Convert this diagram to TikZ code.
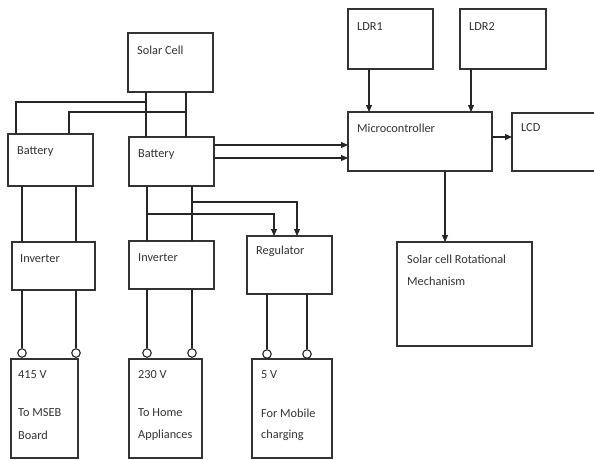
\documentclass[tikz,border=0pt]{standalone}
\usepackage{fontspec}
\setmainfont{Carlito}
\usetikzlibrary{arrows.meta,calc}
\begin{document}
\begin{tikzpicture}[x=1pt,y=-1pt,
  box/.style={draw=black!80,line width=1.1pt,rectangle,inner sep=0pt,outer sep=0pt,anchor=north west},
  lbl/.style={anchor=west,inner sep=0pt,text=black!80,font=\fontsize{12.3}{14}\selectfont},
  wire/.style={draw=black!85,line width=1.1pt},
  arr/.style={wire,-{Triangle[length=7pt,width=6pt]}},
  term/.style={circle,draw=black!85,line width=1.1pt,fill=white,minimum size=8.5pt,inner sep=0pt}]
\useasboundingbox[fill=white] (0,0) rectangle (594,459);
% boxes
\node[box,minimum width=85pt,minimum height=59pt] (solar) at (128,33) {};
\node[box,minimum width=85pt,minimum height=52pt] (bat1) at (8,134) {};
\node[box,minimum width=85pt,minimum height=49pt] (bat2) at (129,137) {};
\node[box,minimum width=83pt,minimum height=48pt] (inv1) at (12,242) {};
\node[box,minimum width=85pt,minimum height=48pt] (inv2) at (129,241) {};
\node[box,minimum width=85pt,minimum height=58pt] (reg) at (247,236) {};
\node[box,minimum width=67pt,minimum height=99pt] (out1) at (11,359) {};
\node[box,minimum width=73pt,minimum height=99pt] (out2) at (129,359) {};
\node[box,minimum width=80pt,minimum height=99pt] (out3) at (252,359) {};
\node[box,minimum width=85pt,minimum height=60pt] (ldr1) at (348,9) {};
\node[box,minimum width=86pt,minimum height=60pt] (ldr2) at (460,9) {};
\node[box,minimum width=144pt,minimum height=59pt] (micro) at (348,112) {};
\node[box,minimum width=90pt,minimum height=58pt] (lcd) at (512,113) {};
\node[box,minimum width=135pt,minimum height=104pt] (rot) at (397,242) {};
% labels
\node[lbl] (tsolar) at (137,50) {Solar Cell};
\node[lbl] (tbat1) at (17,152) {Battery};
\node[lbl] (tbat2) at (138,155) {Battery};
\node[lbl] (tinv1) at (20,259) {Inverter};
\node[lbl] (tinv2) at (138,258) {Inverter};
\node[lbl] (treg) at (256,251) {Regulator};
\node[lbl] (tldr1) at (357,27) {LDR1};
\node[lbl] (tldr2) at (469,27) {LDR2};
\node[lbl] (tmicro) at (357,128) {Microcontroller};
\node[lbl] (tlcd) at (521,128) {LCD};
\node[lbl] (trot1) at (407,259) {Solar cell Rotational};
\node[lbl] (trot2) at (407,281) {Mechanism};
\node[lbl] (to1a) at (18,375) {415 V};
\node[lbl] (to1b) at (18,413) {To MSEB};
\node[lbl] (to1c) at (18,435) {Board};
\node[lbl] (to2a) at (138,375) {230 V};
\node[lbl] (to2b) at (138,413) {To Home};
\node[lbl] (to2c) at (138,435) {Appliances};
\node[lbl] (to3a) at (261,375) {5 V};
\node[lbl] (to3b) at (261,413) {For Mobile};
\node[lbl] (to3c) at (261,435) {charging};
% column coordinates
\coordinate (xa) at (146,0);
\coordinate (xb) at (186,0);
\coordinate (xc) at (16,0);
\coordinate (xd) at (69,0);
\coordinate (x1) at (22,0);
\coordinate (x2) at (76,0);
\coordinate (x3) at (147,0);
\coordinate (x4) at (192,0);
\coordinate (x5) at (267,0);
\coordinate (x6) at (307,0);
\coordinate (x7) at (274,0);
\coordinate (x8) at (297,0);
\coordinate (x9) at (369,0);
\coordinate (x10) at (471,0);
\coordinate (x11) at (445,0);
\coordinate (y1) at (0,102);
\coordinate (y2) at (0,112);
\coordinate (y3) at (0,145);
\coordinate (y4) at (0,158);
\coordinate (y5) at (0,202);
\coordinate (y6) at (0,214);
\coordinate (y7) at (0,137);
% terminals
\node[term] (c1) at (22,353) {};
\node[term] (c2) at (76,353) {};
\node[term] (c3) at (147,353) {};
\node[term] (c4) at (192,353) {};
\node[term] (c5) at (267,354) {};
\node[term] (c6) at (307,354) {};
% solar to batteries
\draw[wire] (solar.south -| xa) -- (bat2.north -| xa);
\draw[wire] (solar.south -| xb) -- (bat2.north -| xb);
\draw[wire] (xa |- y1) -- (xc |- y1) -- (bat1.north -| xc);
\draw[wire] (xb |- y2) -- (xd |- y2) -- (bat1.north -| xd);
% battery to micro
\draw[arr] (bat2.east |- y3) -- (micro.west |- y3);
\draw[arr] (bat2.east |- y4) -- (micro.west |- y4);
% batteries to inverters
\draw[wire] (bat1.south -| x1) -- (inv1.north -| x1);
\draw[wire] (bat1.south -| x2) -- (inv1.north -| x2);
\draw[wire] (bat2.south -| x3) -- (inv2.north -| x3);
\draw[wire] (bat2.south -| x4) -- (inv2.north -| x4);
% branches to regulator
\draw[arr] (x4 |- y5) -- (x8 |- y5) -- (reg.north -| x8);
\draw[arr] (x3 |- y6) -- (x7 |- y6) -- (reg.north -| x7);
% inverters/regulator to terminals
\draw[wire] (inv1.south -| x1) -- (c1.north);
\draw[wire] (inv1.south -| x2) -- (c2.north);
\draw[wire] (inv2.south -| x3) -- (c3.north);
\draw[wire] (inv2.south -| x4) -- (c4.north);
\draw[wire] (reg.south -| x5) -- (c5.north);
\draw[wire] (reg.south -| x6) -- (c6.north);
% LDRs, LCD, mechanism
\draw[arr] (ldr1.south -| x9) -- (micro.north -| x9);
\draw[arr] (ldr2.south -| x10) -- (micro.north -| x10);
\draw[arr] (micro.east |- y7) -- (lcd.west |- y7);
\draw[arr] (micro.south -| x11) -- (rot.north -| x11);
\end{tikzpicture}
\end{document}
